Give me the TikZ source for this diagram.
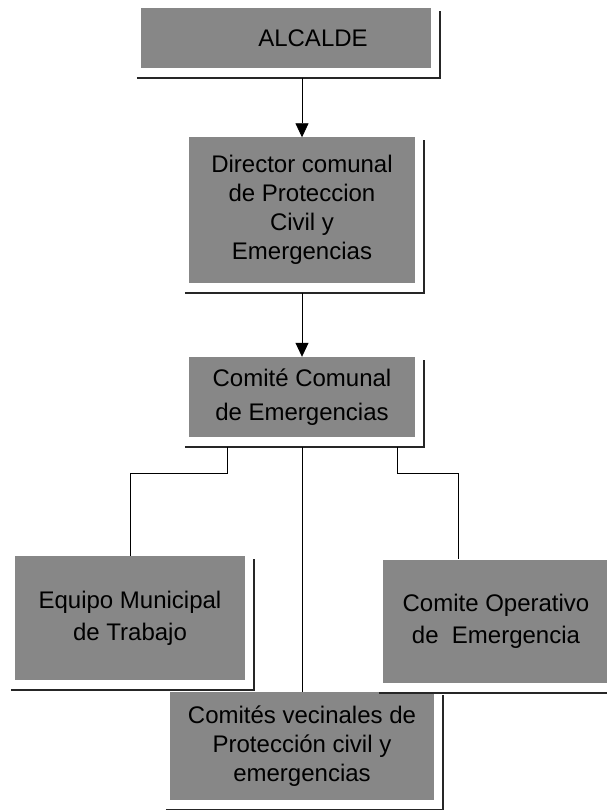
\documentclass[tikz,border=0pt]{standalone}
\usepackage{fontspec}
\setmainfont{Liberation Sans}
\usetikzlibrary{positioning,arrows.meta}
\tikzset{
  box/.style={fill=black!47,inner sep=0pt,align=center,
    font=\fontsize{24}{29}\selectfont},
  link/.style={line width=0.8pt},
  shadeline/.style={line width=2.2pt,black!85},
  down/.style={link,-{Triangle[length=14pt,width=13pt]}},
}
% shadow frame below and right of a box
\newcommand\boxshadow[1]{%
  \draw[shadeline] ([xshift=-4pt,yshift=-10pt]#1.south west)
    -- ([xshift=9pt,yshift=-10pt]#1.south east)
    -- ([xshift=9pt,yshift=-3pt]#1.north east);}
\begin{document}
\begin{tikzpicture}[x=1pt,y=-1pt]
\useasboundingbox (0,0) rectangle (606,810);

\node[box,minimum width=290pt,minimum height=60pt] (alcalde) at (286,38) {\hspace*{54pt}ALCALDE};
\node[box,minimum width=226pt,minimum height=145pt] (director) at (302,210)
  {Director comunal\\de Proteccion\\Civil y\\Emergencias};
\node[box,minimum width=226pt,minimum height=80pt,font=\fontsize{24}{34}\selectfont] (comite) at (302,397)
  {Comité Comunal\\de Emergencias};
\node[box,minimum width=230pt,minimum height=124pt,font=\fontsize{24}{32}\selectfont] (equipo) at (130,618)
  {Equipo Municipal\\de Trabajo};
\node[box,minimum width=226pt,minimum height=123pt,font=\fontsize{24}{32}\selectfont] (operativo) at (496,621)
  {Comite Operativo\\de\ \ Emergencia};
\node[box,minimum width=264pt,minimum height=108pt] (vecinales) at (302,746)
  {Comités vecinales de\\Protección civil y\\emergencias};

\foreach \b in {alcalde,director,comite,equipo,operativo,vecinales}
  \boxshadow{\b};

\draw[down] ([yshift=-10pt]alcalde.south -| director.north) -- (director.north);
\draw[down] ([yshift=-10pt]director.south) -- (comite.north);
\draw[link] ([xshift=-75pt,yshift=-10pt]comite.south) -- ++(0,-26pt) -| (equipo.north);
\draw[link] ([xshift=95pt,yshift=-10pt]comite.south) -- ++(0,-26pt) -| ([xshift=-38pt]operativo.north);
\draw[link] ([yshift=-10pt]comite.south) -- (vecinales.north);
\end{tikzpicture}
\end{document}
